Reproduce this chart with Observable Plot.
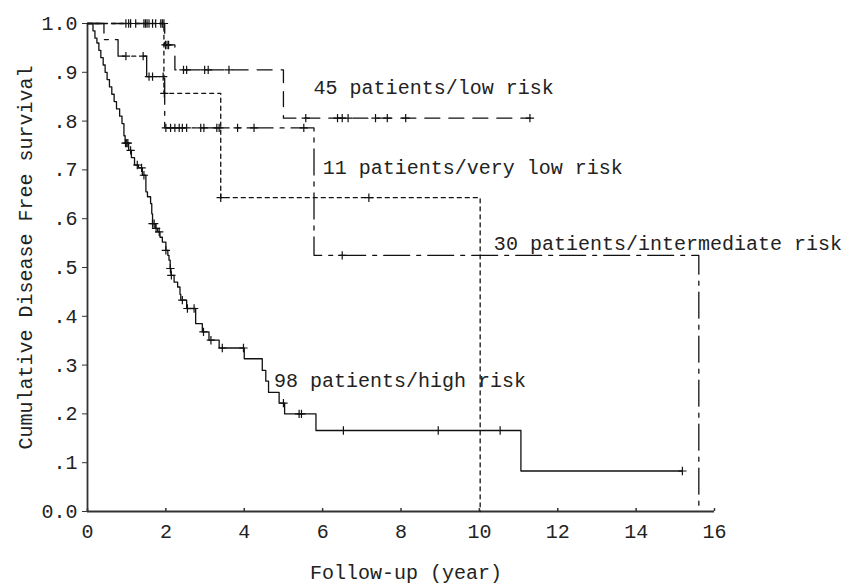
<!DOCTYPE html>
<html><head><meta charset="utf-8">
<script src="https://cdn.jsdelivr.net/npm/d3@7"></script>
<script src="https://cdn.jsdelivr.net/npm/@observablehq/plot@0.6"></script>
<style>body{margin:0;background:#fff}</style>
</head><body><div id="chart"></div>
<script>
// ---- data ----
const groups = ["high", "low", "veryLow", "intermediate"];

// high risk (98 patients) step knots
const highT = [0, 0.14, 0.19, 0.24, 0.29, 0.34, 0.40, 0.45, 0.50, 0.56, 0.62, 0.68, 0.74, 0.82, 0.88, 0.93, 0.96, 1.05, 1.12, 1.20, 1.30, 1.40, 1.49, 1.53, 1.61, 1.64, 1.66, 1.73, 1.79, 1.85, 1.91, 2.00, 2.05, 2.08, 2.11, 2.13, 2.21, 2.30, 2.36, 2.38, 2.53, 2.76, 2.93, 3.10, 3.36, 4.00, 4.46, 4.55, 4.62, 4.89, 5.03, 5.83, 11.06, 15.18];
const highS = [1, 0.985, 0.97, 0.96, 0.945, 0.93, 0.915, 0.90, 0.885, 0.87, 0.855, 0.84, 0.825, 0.81, 0.795, 0.77, 0.755, 0.74, 0.725, 0.71, 0.704, 0.689, 0.655, 0.645, 0.631, 0.61, 0.59, 0.58, 0.573, 0.562, 0.552, 0.535, 0.525, 0.515, 0.498, 0.484, 0.47, 0.46, 0.445, 0.433, 0.416, 0.385, 0.368, 0.351, 0.335, 0.313, 0.289, 0.267, 0.244, 0.222, 0.20, 0.166, 0.083, 0.083];
const highCT = [0.97, 1.00, 1.03, 1.10, 1.27, 1.38, 1.44, 1.66, 1.70, 1.75, 1.83, 2.00, 2.115, 2.14, 2.42, 2.55, 2.72, 2.96, 3.15, 3.44, 3.98, 5.00, 5.40, 5.46, 6.53, 8.95, 10.53, 15.18];
const highCS = [0.755, 0.755, 0.755, 0.74, 0.71, 0.704, 0.689, 0.59, 0.59, 0.58, 0.573, 0.535, 0.498, 0.484, 0.433, 0.416, 0.416, 0.368, 0.351, 0.335, 0.335, 0.222, 0.20, 0.20, 0.166, 0.166, 0.166, 0.083];

// low risk (45 patients)
const lowT = [0, 1.97, 2.23, 5.00, 11.30];
const lowS = [1, 0.956, 0.905, 0.806, 0.806];
const lowCT = [0.98, 1.05, 1.10, 1.23, 1.44, 1.48, 1.52, 1.57, 1.66, 1.74, 1.87, 1.91, 1.95, 1.99, 2.03, 2.07, 2.45, 2.53, 2.99, 3.08, 3.61, 5.57, 6.38, 6.50, 6.65, 7.35, 7.65, 8.12, 11.29];
const lowCS = [1, 1, 1, 1, 1, 1, 1, 1, 1, 1, 1, 1, 1, 0.956, 0.956, 0.956, 0.905, 0.905, 0.905, 0.905, 0.905, 0.806, 0.806, 0.806, 0.806, 0.806, 0.806, 0.806, 0.806];

// very low risk (11 patients)
const vlowT = [0, 1.95, 3.40, 10.02];
const vlowS = [1, 0.857, 0.643, 0];
const vlowCT = [1.96, 3.40, 7.18];
const vlowCS = [0.857, 0.643, 0.643];

// intermediate risk (30 patients)
const midT = [0, 0.42, 0.78, 1.51, 1.97, 5.78, 15.60];
const midS = [1, 0.967, 0.933, 0.891, 0.786, 0.525, 0];
const midCT = [0.98, 1.42, 1.57, 1.66, 1.93, 2.00, 2.12, 2.23, 2.34, 2.42, 2.53, 2.89, 2.97, 3.30, 3.36, 3.83, 4.25, 5.52, 6.50];
const midCS = [0.933, 0.933, 0.891, 0.891, 0.891, 0.786, 0.786, 0.786, 0.786, 0.786, 0.786, 0.786, 0.786, 0.786, 0.786, 0.786, 0.786, 0.786, 0.525];

const labels = ["98 patients/high risk", "45 patients/low risk", "11 patients/very low risk", "30 patients/intermediate risk"];
const xTicks = [0, 2, 4, 6, 8, 10, 12, 14, 16];
const yTicks = [0, 0.1, 0.2, 0.3, 0.4, 0.5, 0.6, 0.7, 0.8, 0.9, 1.0];
const yTickLabels = ["0.0", ".1", ".2", ".3", ".4", ".5", ".6", ".7", ".8", ".9", "1.0"];
const xTitle = "Follow-up (year)";
const yTitle = "Cumulative Disease Free survival";

// ---- build tables ----
const series = {high: [highT, highS], low: [lowT, lowS], veryLow: [vlowT, vlowS], intermediate: [midT, midS]};
const censors = {high: [highCT, highCS], low: [lowCT, lowCS], veryLow: [vlowCT, vlowCS], intermediate: [midCT, midCS]};
const dash = {high: null, low: "15,9", veryLow: "4,4", intermediate: "26,7,4,7"};
const toRows = (g, [T, S]) => T.map((t, i) => ({group: g, t, s: S[i]}));

const ink = "#111";
const marks = [];
for (const g of groups) {
  marks.push(Plot.line(toRows(g, series[g]), {x: "t", y: "s", curve: "step-after", stroke: ink, strokeWidth: 1.3, strokeDasharray: dash[g]}));
  marks.push(Plot.dot(toRows(g, censors[g]), {x: "t", y: "s", symbol: "plus", r: 2.8, stroke: ink, strokeWidth: 1.2}));
}

const chart = Plot.plot({
  width: 863,
  height: 586,
  marginLeft: 87,
  marginRight: 149,
  marginTop: 23,
  marginBottom: 75,
  style: {fontFamily: "'Liberation Mono', monospace", fontSize: "20px", color: "#222", background: "#fff"},
  x: {domain: [0, 16]},
  y: {domain: [0, 1]},
  marks: [
    Plot.axisY(yTicks, {tickSize: 5, tickPadding: 5, tickFormat: d => yTickLabels[yTicks.indexOf(d)], label: null, stroke: "#333"}),
    Plot.axisX(xTicks, {tickSize: 0, tickPadding: 12, label: null}),
    Plot.ruleX(xTicks, {y1: 0, y2: 0.006, stroke: "#333", strokeWidth: 1.5}),
    Plot.ruleX([0], {stroke: "#333", strokeWidth: 1.8}),
    Plot.ruleY([0], {stroke: "#333", strokeWidth: 1.8}),
    ...marks,
    Plot.text(labels, {x: [4.76, 5.77, 6.0, 10.37], y: [0.268, 0.869, 0.705, 0.549], text: d => d, textAnchor: "start", fill: "#222"}),
    Plot.text([xTitle], {frameAnchor: "bottom", textAnchor: "middle", lineAnchor: "middle", dy: 61, dx: 5, text: d => d, fill: "#222"}),
    Plot.text([yTitle], {frameAnchor: "left", textAnchor: "middle", lineAnchor: "middle", rotate: -90, dx: -62, dy: -10, text: d => d, fill: "#222"})
  ]
});
document.getElementById("chart").appendChild(chart);
</script>
</body></html>
